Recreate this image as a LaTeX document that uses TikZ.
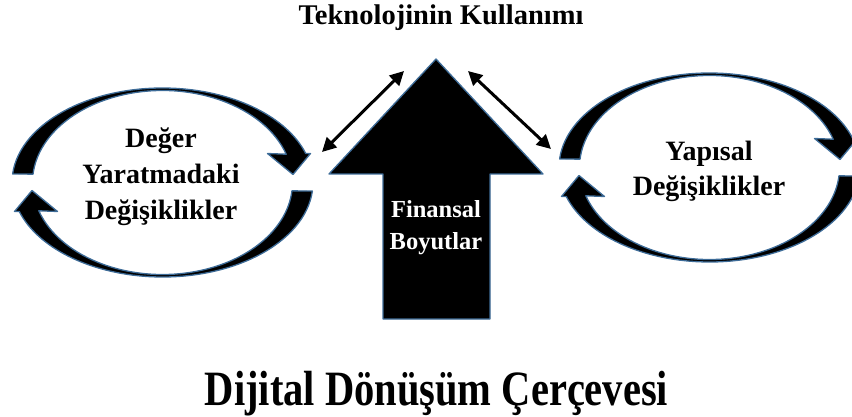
\documentclass[tikz,border=0pt]{standalone}
\usepackage{fontspec}
\setmainfont{Liberation Serif}
\usetikzlibrary{arrows.meta}

\definecolor{rim}{RGB}{62,108,152}

\tikzset{
  band/.style={fill=black, draw=rim, line width=1.3pt, line join=round},
  label/.style={inner sep=0pt, align=center, font=\bfseries},
  link/.style={line width=3pt, {Triangle[length=14pt,width=14pt]}-{Triangle[length=14pt,width=14pt]}}
}

% one half of a looping arrow: a crescent between two ellipses ending in a head
\newcommand{\loophalf}{%
  (185.2:150.5 and 94.5)
  arc[start angle=185.2, end angle=342.1, x radius=150.5, y radius=94.5]
  -- (148,-29) -- (130.5,-8) -- (105,-29)
  -- (342.1:130 and 92)
  arc[start angle=342.1, end angle=185.2, x radius=130, y radius=92]
  -- cycle}

\begin{document}
\begin{tikzpicture}[x=1pt, y=-1pt]
  \useasboundingbox (0,0) rectangle (852,417);
  \clip (0,0) rectangle (852,417);

  % left cycle
  \begin{scope}[shift={(162.5,182.5)}]
    \draw[band] \loophalf;
    \draw[band, rotate=180] \loophalf;
  \end{scope}
  \node[label, font=\bfseries\fontsize{28}{36}\selectfont] (deger) at (161,177)
    {Değer\\Yaratmadaki\\Değişiklikler};

  % right cycle
  \begin{scope}[shift={(709.5,167.5)}]
    \draw[band] \loophalf;
    \draw[band, rotate=180] \loophalf;
  \end{scope}
  \node[label, font=\bfseries\fontsize{28}{35}\selectfont] (yapisal) at (709,171)
    {Yapısal\\Değişiklikler};

  % central upward arrow
  \draw[band] (436,59) coordinate (tip) -- (543,174) -- (490,174) -- (490,319)
    -- (383,319) -- (383,174) -- (329,174) -- cycle;
  \node[label, text=white, font=\bfseries\fontsize{24.5}{32}\selectfont] (finans) at (436,228)
    {Finansal\\Boyutlar};

  % two-way links beside the arrow head
  \coordinate (lA) at (322,152);
  \coordinate (lB) at (404,71);
  \coordinate (rA) at (468,71);
  \coordinate (rB) at (551,149);
  \draw[link] (lA) -- (lB);
  \draw[link] (rA) -- (rB);

  % headings
  \node[inner sep=0pt, anchor=base, font=\bfseries\fontsize{28.5}{34}\selectfont] (tekno) at (441,25)
    {Teknolojinin Kullanımı};
  \node[inner sep=0pt, anchor=base, font=\bfseries\fontsize{40.5}{48}\selectfont] (baslik) at (436.5,405)
    {\scalebox{1}[1.22]{Dijital Dönüşüm Çerçevesi}};
\end{tikzpicture}
\end{document}
